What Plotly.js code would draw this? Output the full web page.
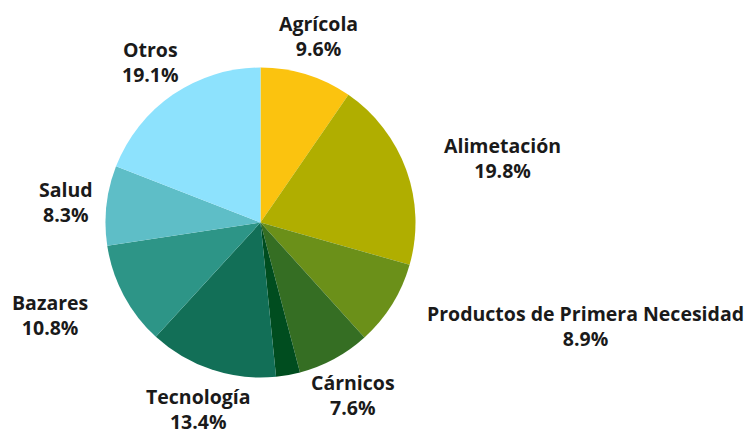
<!DOCTYPE html>
<html>
<head>
<meta charset="utf-8">
<script src="https://cdn.plot.ly/plotly-3.0.1.min.js"></script>
<style>html,body{margin:0;padding:0;background:#fff;}#chart{width:747px;height:435px;}</style>
</head>
<body>
<div id="chart"></div>
<script>
// Data
const categories = ["Agrícola", "Alimetación", "Productos de Primera Necesidad", "Cárnicos", "", "Tecnología", "Bazares", "Salud", "Otros"];
const shares = [9.6, 19.8, 8.9, 7.6, 2.5, 13.4, 10.8, 8.3, 19.1];
const sliceColors = ["#FBC30F", "#B0AE00", "#6B9019", "#356E23", "#004D1F", "#126F57", "#2D9587", "#5EBEC7", "#8DE2FD"];

// Label placement (pixels in the 747x435 canvas)
const labelPos = [[318, 36], [502, 158], [585, 326], [353, 395], [0, 0], [198, 409], [50, 315], [66, 202], [150, 62]];

const W = 747, H = 435;
const annotations = [];
categories.forEach((c, i) => {
  if (!c) return;
  annotations.push({
    xref: "paper", yref: "paper",
    x: labelPos[i][0] / W, y: 1 - labelPos[i][1] / H,
    xanchor: "center", yanchor: "middle",
    text: c + "<br>" + shares[i].toFixed(1) + "%",
    showarrow: false,
    font: {family: "Open Sans", size: 19.5, color: "#1a1a1a", weight: 700},
    align: "center"
  });
});

const trace = {
  type: "pie",
  labels: categories.map((c, i) => c || "sin nombre"),
  values: shares,
  sort: false,
  direction: "clockwise",
  rotation: 0,
  marker: {colors: sliceColors, line: {width: 0}},
  textinfo: "none",
  hoverinfo: "label+percent",
  domain: {x: [105.5 / W, 415.5 / W], y: [1 - 377.5 / H, 1 - 67.5 / H]}
};

Plotly.newPlot("chart", [trace], {
  width: W, height: H,
  margin: {l: 0, r: 0, t: 0, b: 0},
  showlegend: false,
  paper_bgcolor: "#ffffff",
  font: {family: "Open Sans"},
  annotations: annotations
}, {displayModeBar: false, staticPlot: true});
</script>
</body>
</html>
